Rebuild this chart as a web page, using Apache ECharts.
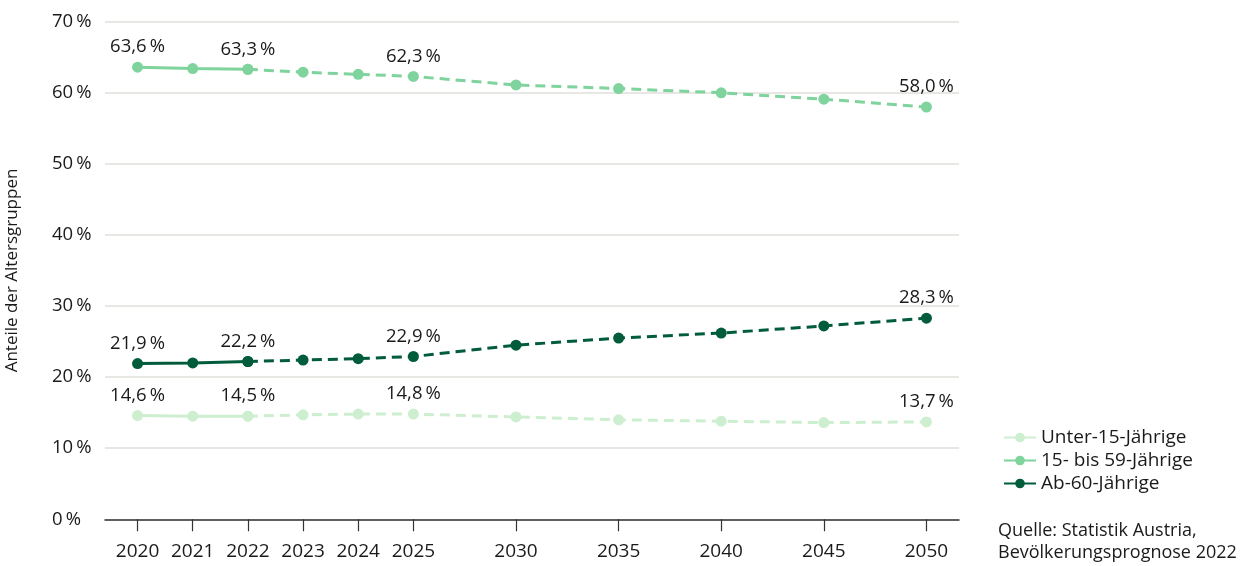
<!DOCTYPE html>
<html>
<head>
<meta charset="utf-8">
<script src="https://cdn.jsdelivr.net/npm/echarts@6/dist/echarts.min.js"></script>
<style>
html,body{margin:0;padding:0;background:#fff;}
#chart{width:1251px;height:566px;}
</style>
</head>
<body>
<div id="chart"></div>
<script>
// ---- data ----
const years = [2020, 2021, 2022, 2023, 2024, 2025, 2030, 2035, 2040, 2045, 2050];
const under15 = [14.6, 14.5, 14.5, 14.7, 14.8, 14.8, 14.4, 14.0, 13.8, 13.6, 13.7];
const age15to59 = [63.6, 63.4, 63.3, 62.9, 62.6, 62.3, 61.1, 60.6, 60.0, 59.1, 58.0];
const age60plus = [21.9, 22.0, 22.2, 22.4, 22.6, 22.9, 24.5, 25.5, 26.2, 27.2, 28.3];
const seriesNames = ['Unter-15-Jährige', '15- bis 59-Jährige', 'Ab-60-Jährige'];
const labelYears = [2020, 2022, 2025, 2050];
const lastObservedYear = 2022;
const yAxisTitle = 'Anteile der Altersgruppen';
const sourceLines = ['Quelle: Statistik Austria,', 'Bevölkerungsprognose 2022'];

// ---- layout / style ----
const colors = ['#cdeecf', '#7fd39c', '#005c3a'];
const FONT = '"Open Sans", "Noto Sans", sans-serif';
const FS = 18;
const TEXT = '#1a1a1a';
// axis scale: single years 2020-2025, then 5-year steps drawn 1.86x as wide
const fiveYearStep = 1.86;
function xPos(y) { return y <= 2025 ? y - 2020 : 5 + (y - 2025) / 5 * fiveYearStep; }
const pad = 0.59;
const tickPositions = years.map(xPos);

function fmt(v) { return v.toFixed(1).replace('.', ',') + '\u2009%'; }

const allValues = [under15, age15to59, age60plus];
const series = [];
allValues.forEach((vals, si) => {
  const base = {
    name: seriesNames[si],
    type: 'line',
    symbol: 'circle',
    symbolSize: 11,
    color: colors[si],
    itemStyle: { color: colors[si] },
    z: 3 + si,
    label: {
      position: 'top', distance: 5, fontFamily: FONT, fontSize: 18.5, color: TEXT,
      formatter: p => fmt(p.value[1])
    },
    emphasis: { disabled: true },
    animation: false
  };
  const solid = [], dashed = [];
  years.forEach((y, i) => {
    if (y <= lastObservedYear) solid.push({ value: [xPos(y), vals[i]], label: { show: labelYears.includes(y) } });
    if (y >= lastObservedYear) dashed.push({ value: [xPos(y), vals[i]], label: { show: labelYears.includes(y) && y > lastObservedYear } });
  });
  series.push(Object.assign({}, base, { data: solid, lineStyle: { width: 3, color: colors[si], type: 'solid' } }));
  series.push(Object.assign({}, base, { data: dashed, lineStyle: { width: 3, color: colors[si], type: [10, 6] } }));
});

const chart = echarts.init(document.getElementById('chart'), null, { renderer: 'canvas' });
chart.setOption({
  backgroundColor: '#ffffff',
  animation: false,
  textStyle: { fontFamily: FONT, color: TEXT },
  grid: { left: 105, right: 292, top: 21.7, bottom: 46.7, containLabel: false, outerBoundsMode: 'none' },
  xAxis: {
    type: 'value',
    min: -pad,
    max: xPos(2050) + pad,
    splitLine: { show: false },
    axisLine: { show: true, lineStyle: { color: '#333333', width: 1.5 } },
    axisTick: { show: true, customValues: tickPositions, length: 12, lineStyle: { color: '#333333', width: 1.2 } },
    axisLabel: {
      customValues: tickPositions,
      margin: 23,
      fontFamily: FONT, fontSize: 19, color: TEXT,
      formatter: v => {
        const idx = tickPositions.findIndex(t => Math.abs(t - v) < 1e-6);
        return idx >= 0 ? String(years[idx]) : '';
      }
    }
  },
  yAxis: {
    type: 'value',
    min: 0, max: 70, interval: 10,
    name: yAxisTitle,
    nameLocation: 'middle',
    nameGap: 84,
    nameRotate: 90,
    nameTextStyle: { fontFamily: FONT, fontSize: 17, color: TEXT },
    axisLine: { show: false },
    axisTick: { show: false },
    splitLine: { show: true, lineStyle: { color: '#e2dfda', width: 1.5 } },
    axisLabel: {
      align: 'left', margin: 53,
      fontFamily: FONT, fontSize: 18.5, color: TEXT,
      formatter: v => v + '\u2009%'
    }
  },
  legend: {
    data: seriesNames,
    orient: 'vertical',
    left: 998, top: 423,
    itemWidth: 32, itemHeight: 12, itemGap: 4,
    textStyle: { fontFamily: FONT, fontSize: 19, color: TEXT },
    selectedMode: false
  },
  graphic: [{
    type: 'text', left: 998, top: 520,
    style: { text: sourceLines.join('\n'), font: FS + 'px ' + FONT, fill: TEXT, lineHeight: 22 }
  }],
  series: series
});
</script>
</body>
</html>
